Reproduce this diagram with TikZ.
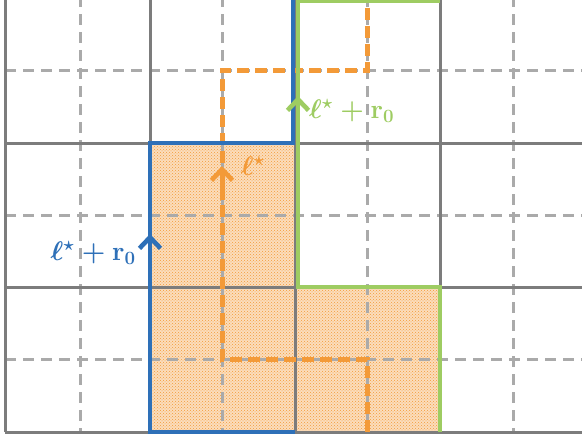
\documentclass[tikz,border=0pt]{standalone}
\usepackage{amsmath,amssymb}
\usepackage{graphicx}
\usepackage{xcolor}
\usepackage{tikz}
\usetikzlibrary{arrows.meta,patterns}
\definecolor{gridgray}{HTML}{7C7C7C}
\definecolor{dashgray}{HTML}{AAAAAA}
\definecolor{pathblue}{HTML}{2E70B8}
\definecolor{pathgreen}{HTML}{9ECC62}
\definecolor{pathorange}{HTML}{F39A38}
\definecolor{lightorange}{HTML}{FBDDBC}
\newcommand{\biglbl}[1]{\scalebox{1.3}{\boldmath#1}}
\tikzset{
  major/.style={draw=gridgray,line width=3pt},
  minor/.style={draw=dashgray,line width=3pt,dash pattern=on 11pt off 7pt},
  cellfill/.style={fill=lightorange,postaction={pattern=crosshatch dots,pattern color=pathorange}},
  bluepath/.style={draw=pathblue,line width=4.6pt},
  greenpath/.style={draw=pathgreen,line width=4.6pt},
  orangepath/.style={draw=pathorange,line width=5pt,dash pattern=on 12pt off 6pt},
  mid/.style={-{Straight Barb[length=11pt,width=21pt,line width=4.6pt]}},
  lbl/.style={inner sep=1pt,font=\huge}
}

\begin{document}
\begin{tikzpicture}[x=1pt,y=-1pt]
\useasboundingbox (0,0) rectangle (582,439);
\clip (0,0) rectangle (582,439);

% shaded cells
\path[cellfill] (150,143) -- (295,143) -- (295,287) -- (440,287)
  -- (440,432) -- (150,432) -- cycle;

% lattice
\foreach \x in {80,222,367,513}
  \draw[minor] (\x,-4) -- (\x,432);
\foreach \y in {70,215,359}
  \draw[minor] (5,\y) -- (590,\y);
\foreach \x in {5,150,295,440}
  \draw[major] (\x,-4) -- (\x,432);
\foreach \y in {143,287,432}
  \draw[major] (5,\y) -- (590,\y);

% paths
\draw[orangepath] (367,432) -- (367,359) -- (222,359) -- (222,70)
  -- (367,70) -- (367,-4);
\draw[bluepath] (293,-4) -- (293,143) -- (150,143) -- (150,432) -- (295,432);
\draw[greenpath] (440,432) -- (440,287) -- (298,287) -- (298,1) -- (440,1);

\coordinate (ob) at (222,200);
\coordinate (ot) at (222,166);
\coordinate (bb) at (150,268);
\coordinate (bt) at (150,234);
\coordinate (gb) at (298,130);
\coordinate (gt) at (298,96);
\draw[orangepath,solid,mid] (ob) -- (ot);
\draw[bluepath,mid] (bb) -- (bt);
\draw[greenpath,mid] (gb) -- (gt);

\node[lbl,text=pathorange] (lorange) at (253,166) {\biglbl{$\ell^\star$}};
\node[lbl,text=pathgreen,anchor=west] (lgreen) at (308,111) {\biglbl{$\ell^\star+\mathbf{r}_0$}};
\node[lbl,text=pathblue,anchor=east] (lblue) at (137,253) {\biglbl{$\ell^\star+\mathbf{r}_0$}};
\end{tikzpicture}
\end{document}
